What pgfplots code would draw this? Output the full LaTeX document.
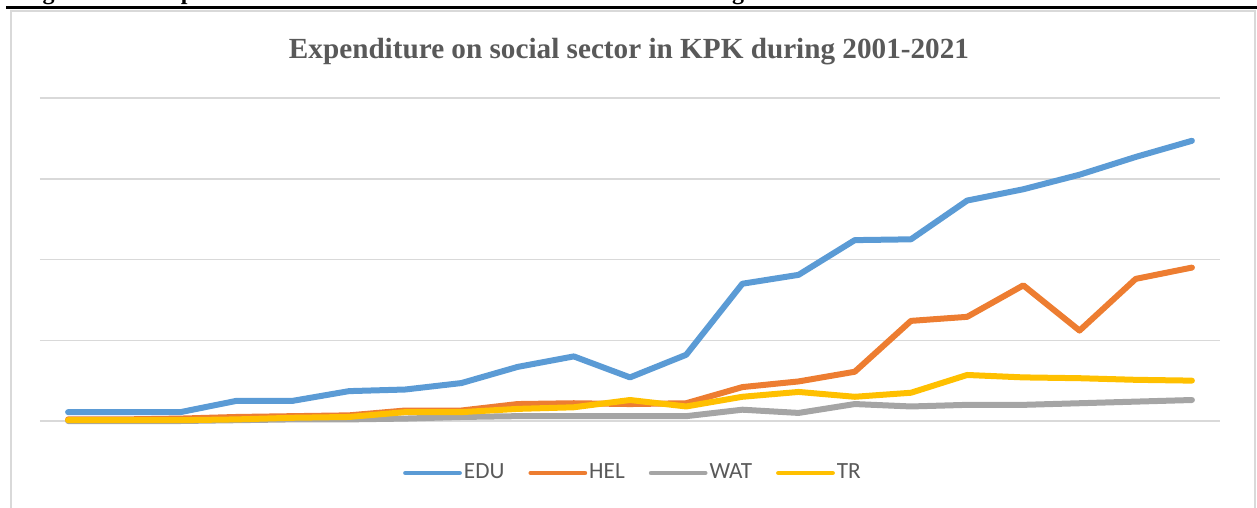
\documentclass[border=0pt]{standalone}
\usepackage{fontspec}
\setmainfont{Carlito}
\newfontfamily\serifface{Liberation Serif}
\usepackage{pgfplots}
\usepackage{pgfplotstable}
\pgfplotsset{compat=1.18}

\definecolor{edu}{HTML}{5B9BD5}
\definecolor{hel}{HTML}{ED7D31}
\definecolor{wat}{HTML}{A5A5A5}
\definecolor{tr}{HTML}{FFC000}
\definecolor{gridcol}{HTML}{D9D9D9}
\definecolor{txt}{HTML}{595959}

% Social sector expenditure in KPK, 2001-2021 (one unit = one gridline step)
\pgfplotstableread{
year EDU  HEL  WAT  TR
2001 0.11 0.02 0.00 0.01
2002 0.11 0.02 0.00 0.01
2003 0.11 0.03 0.00 0.01
2004 0.25 0.05 0.01 0.02
2005 0.25 0.06 0.02 0.04
2006 0.37 0.07 0.02 0.05
2007 0.39 0.13 0.03 0.11
2008 0.47 0.13 0.05 0.11
2009 0.67 0.21 0.06 0.15
2010 0.80 0.22 0.06 0.17
2011 0.54 0.21 0.06 0.26
2012 0.82 0.22 0.06 0.18
2013 1.70 0.42 0.14 0.30
2014 1.81 0.49 0.10 0.36
2015 2.24 0.61 0.21 0.30
2016 2.25 1.24 0.18 0.35
2017 2.73 1.29 0.20 0.57
2018 2.87 1.68 0.20 0.54
2019 3.05 1.12 0.22 0.53
2020 3.27 1.76 0.24 0.51
2021 3.47 1.90 0.26 0.50
}\expdata

\begin{document}
\begin{tikzpicture}[x=0.5pt,y=-0.5pt]
\useasboundingbox (0,0) rectangle (1257,508);

% figure caption running above the chart
\begin{scope}
  \clip (0,0) rectangle (1257,5.5);
  \node[anchor=base west, inner sep=0pt,
        font=\serifface\bfseries\fontsize{12}{14}\selectfont]
    at (21,0) {Figure 4.10: Expenditure on Social Sector in the KPK Province during 2001-2021};
\end{scope}
\draw[black, line width=1.8pt] (6,7.5) -- (1257,7.5);

% chart area frame
\draw[gridcol, line width=0.75pt] (11,520) -- (11,11) -- (1255,11) -- (1255,520);

% chart title
\node[anchor=base, inner sep=0pt, text=txt,
      font=\serifface\bfseries\fontsize{14.6}{17}\selectfont]
  at (629,59) {Expenditure on social sector in KPK during 2001-2021};

\begin{axis}[
  at={(20pt,-210.5pt)}, anchor=south west,
  scale only axis, width=590pt, height=161.5pt,
  xmin=2000.5, xmax=2021.5, ymin=0, ymax=4,
  clip=false,
  axis line style={draw=none},
  tick style={draw=none},
  xtick=\empty,
  ytick={0,1,2,3,4}, yticklabels={},
  ymajorgrids,
  grid style={gridcol, line width=0.75pt},
  legend style={at={(0.5025,-0.161)}, anchor=center, draw=none, fill=none,
    font=\fontsize{11.6}{13}\selectfont, text=txt,
    nodes={inner sep=1pt},
    /tikz/every even column/.append style={column sep=11pt}},
  legend columns=-1,
  legend image code/.code={\draw[#1, line width=2.4pt, line cap=round] (0pt,0pt) -- (27pt,0pt);},
  every axis plot/.append style={line width=3pt, line join=round, line cap=round},
]
\addplot[edu] table[x=year, y=EDU] {\expdata};
\addplot[hel] table[x=year, y=HEL] {\expdata};
\addplot[wat] table[x=year, y=WAT] {\expdata};
\addplot[tr]  table[x=year, y=TR]  {\expdata};
\legend{EDU, HEL, WAT, TR}
\end{axis}
\end{tikzpicture}
\end{document}
